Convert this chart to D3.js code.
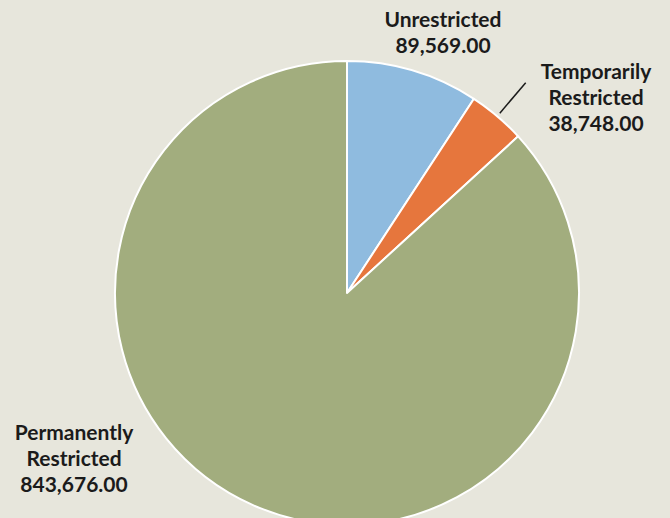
<!DOCTYPE html>
<html>
<head>
<meta charset="utf-8">
<script src="https://cdn.jsdelivr.net/npm/d3@7/dist/d3.min.js"></script>
<style>
  html, body { margin: 0; padding: 0; background: #e7e6dc; }
  svg { display: block; }
  text { font-family: Lato, "Open Sans", sans-serif; font-weight: 700; fill: #1b1b1b; }
</style>
</head>
<body>
<svg id="chart" width="670" height="518"></svg>
<script>
// Net assets by restriction class
const categories = ["Unrestricted", "Temporarily Restricted", "Permanently Restricted"];
const values = [89569.00, 38748.00, 843676.00];
const labelLines = [["Unrestricted"], ["Temporarily", "Restricted"], ["Permanently", "Restricted"]];
const colors = ["#8fbbdf", "#e6763d", "#a2ad7e"];

const svg = d3.select("#chart");
const W = 670, H = 518;
const cx = 347, cy = 293, R = 232;

svg.append("rect").attr("width", W).attr("height", H).attr("fill", "#e7e6dc");

const data = categories.map((c, i) => ({ name: c, value: values[i], lines: labelLines[i], color: colors[i] }));

const pie = d3.pie().value(d => d.value).sort(null);
const arcs = pie(data);
const arc = d3.arc().innerRadius(0).outerRadius(R);

const g = svg.append("g").attr("transform", `translate(${cx},${cy})`);

g.selectAll("path.slice")
  .data(arcs)
  .enter().append("path")
  .attr("class", "slice")
  .attr("d", arc)
  .attr("fill", d => d.data.color)
  .attr("stroke", "#ffffff")
  .attr("stroke-width", 2)
  .attr("stroke-linejoin", "round");

const fmt = d3.format(",.2f");

// label placement relative to the pie centre: [centre x, first baseline y]
const labelOffsets = [[96, -266], [249, -214], [-273, 147]];
const lineH = 26;

arcs.forEach((a, i) => {
  const lines = a.data.lines.concat([fmt(a.data.value)]);
  const [ox, oy] = labelOffsets[i];
  const t = g.append("text")
    .attr("text-anchor", "middle")
    .attr("font-size", 21);
  lines.forEach((ln, j) => {
    t.append("tspan")
      .attr("x", ox)
      .attr("y", oy + j * lineH)
      .text(ln);
  });
});

// leader line for the narrow slice
const small = arcs[1];
const mid = (small.startAngle + small.endAngle) / 2;
const p = r => [r * Math.sin(mid), -r * Math.cos(mid)];
g.append("line")
  .attr("x1", p(236)[0]).attr("y1", p(236)[1])
  .attr("x2", p(276)[0]).attr("y2", p(276)[1])
  .attr("stroke", "#1b1b1b")
  .attr("stroke-width", 1.5);
</script>
</body>
</html>
